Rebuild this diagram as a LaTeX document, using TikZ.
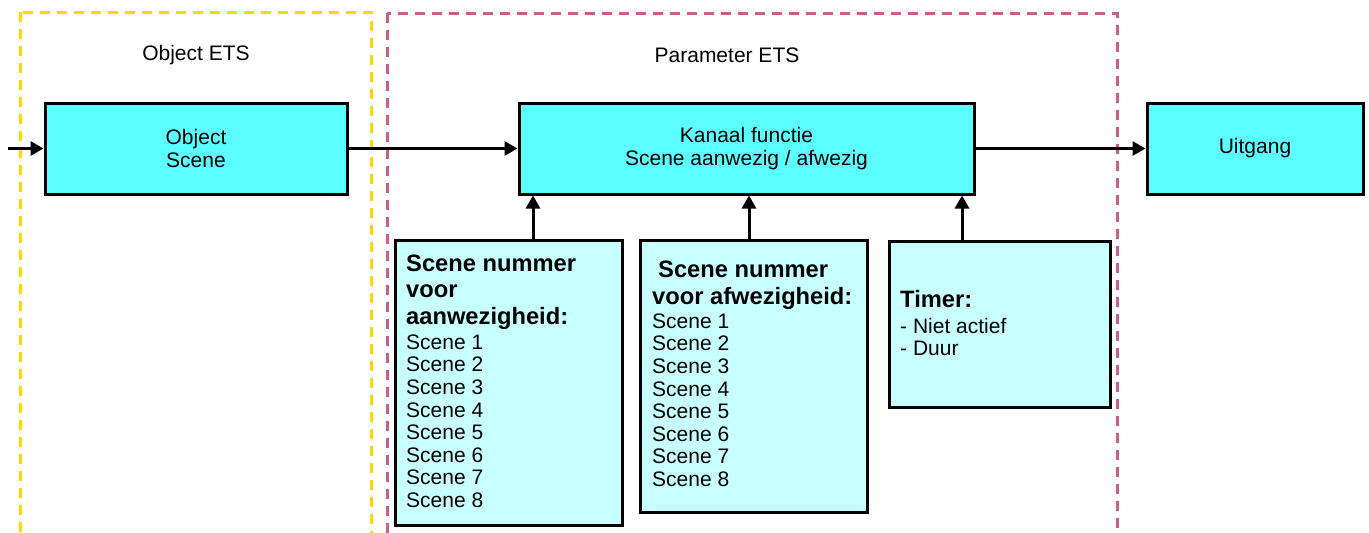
\documentclass[tikz,border=0pt]{standalone}
\usepackage{fontspec}
\setmainfont{Liberation Sans}
\usetikzlibrary{arrows.meta}
\definecolor{boxcyan}{HTML}{5CFFFF}
\definecolor{boxlight}{HTML}{C8FFFF}
\definecolor{zoneyellow}{HTML}{FFD700}
\definecolor{zonepink}{HTML}{CF5C87}
\newcommand\nrmfont{\fontsize{21}{22.6}\selectfont}
\newcommand\bldfont{\fontsize{23.7}{27}\selectfont\bfseries}
\tikzset{
  mainbox/.style={draw=black, line width=3pt, fill=boxcyan, inner sep=0pt, align=center, font=\nrmfont},
  parbox/.style={draw=black, line width=3pt, fill=boxlight, inner sep=0pt},
  txt/.style={anchor=north west, inner sep=0pt, align=left, font=\nrmfont},
  zone/.style={line width=3pt, dash pattern=on 10pt off 7pt},
  arr/.style={line width=3pt, -{Triangle[length=13pt,width=14pt]}},
  lbl/.style={font=\nrmfont, inner sep=0pt}
}
\begin{document}
\begin{tikzpicture}[x=1pt,y=-1pt]
\useasboundingbox (0,0) rectangle (1369,533);
\clip (0,0) rectangle (1369,533);
% zones
\draw[zone, zoneyellow] (20,12) rectangle (371,560);
\draw[zone, zonepink] (387,13) rectangle (1117,560);
\node[lbl] (lobj) at (196,55) {Object ETS};
\node[lbl] (lpar) at (727,55) {Parameter ETS};
% main boxes
\node[mainbox, minimum width=302pt, minimum height=91pt] (obj) at (196,148.5) {Object\\Scene};
\node[mainbox, minimum width=455pt, minimum height=91pt] (kan) at (746.5,148.5) {Kanaal functie\\Scene aanwezig / afwezig};
\node[mainbox, minimum width=216pt, minimum height=91pt] (uit) at (1255,148.5) {\raisebox{-2pt}{Uitgang}};
% parameter boxes
\node[parbox, minimum width=227pt, minimum height=285pt] (b1) at (508.5,382.5) {};
\node[parbox, minimum width=227pt, minimum height=272pt] (b2) at (753.5,376) {};
\node[parbox, minimum width=221pt, minimum height=166pt] (b3) at (999.5,324) {};
\node[txt] (t1) at (406,254.6) {{\bldfont Scene nummer}\\[3.9pt]{\bldfont voor}\\[3.9pt]{\bldfont aanwezigheid:}\\[2.4pt]Scene 1\\Scene 2\\Scene 3\\Scene 4\\Scene 5\\Scene 6\\Scene 7\\Scene 8};
\node[txt] (t2) at (652,260.6) {{\bldfont\hspace*{6pt}Scene nummer}\\[4.4pt]{\bldfont voor afwezigheid:}\\[1.4pt]Scene 1\\Scene 2\\Scene 3\\Scene 4\\Scene 5\\Scene 6\\Scene 7\\Scene 8};
\node[txt] (t3) at (900,290) {{\bldfont Timer:}\\[3.4pt]- Niet actief\\- Duur};
% connectors
\coordinate (in) at (8,148.5);
\draw[arr] (in) -- (obj.west);
\draw[arr] (obj.east) -- (kan.west);
\draw[arr] (kan.east) -- (uit.west);
\draw[arr] ([xshift=24.5pt]b1.north) -- ([xshift=24.5pt]b1.north |- kan.south);
\draw[arr] ([xshift=-4.5pt]b2.north) -- ([xshift=-4.5pt]b2.north |- kan.south);
\draw[arr] ([xshift=-37.5pt]b3.north) -- ([xshift=-37.5pt]b3.north |- kan.south);
\end{tikzpicture}
\end{document}
